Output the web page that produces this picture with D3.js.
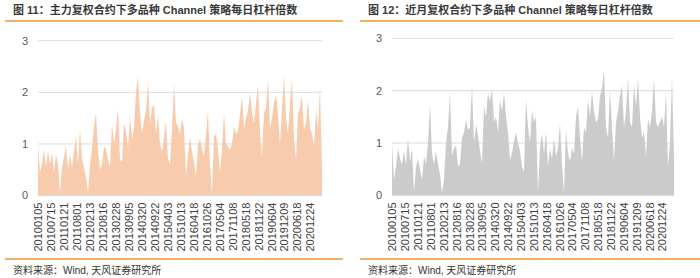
<!DOCTYPE html>
<html>
<head>
<meta charset="utf-8">
<script src="https://cdn.jsdelivr.net/npm/d3@7/dist/d3.min.js"></script>
<style>
  html, body { margin: 0; padding: 0; background: #fff; }
  svg { display: block; }
  text { font-family: "Liberation Sans", Arial, "Noto Sans CJK SC", sans-serif; }
</style>
</head>
<body>
<svg id="chart" width="700" height="278"></svg>
<script>
// ---------- data ----------
const titles = [
  "图 11：主力复权合约下多品种 Channel 策略每日杠杆倍数",
  "图 12：近月复权合约下多品种 Channel 策略每日杠杆倍数"
];
const sourceText = "资料来源：Wind, 天风证券研究所";
const tickLabels = ["20100105","20100715","20110121","20110801","20120213","20120816","20130228",
  "20130905","20140320","20140922","20150403","20151013","20160418","20161026","20170504",
  "20171108","20180518","20181122","20190604","20191209","20200618","20201224"];
const yTicks = [0, 1, 2, 3];
const tradingDaysPerLabel = 130;
const totalTradingDays = 2851;

// leverage (sampled along the trading days), main contracts
const mainLeverage = [
  0.98,0.45,0.6,0.9,0.55,0.88,0.6,0.82,0.45,0.8,0.6,0.05,0.55,0.75,0.95,0.5,0.8,0.55,0.85,1.15,
  0.6,1.3,0.7,0.55,0.35,0.03,0.6,0.9,1.35,1.6,0.9,0.5,0.6,0.95,0.9,0.7,0.55,1.4,1.0,1.3,
  1.68,0.7,0.65,1.4,1.25,0.9,1.55,1.1,1.3,2.0,2.3,1.6,1.2,1.45,1.65,2.2,1.4,1.7,1.75,1.2,
  1.55,1.0,0.85,1.15,1.45,0.7,0.6,1.3,2.17,1.4,1.35,1.2,1.5,1.3,0.37,0.8,1.14,0.85,0.65,0.35,
  1.0,1.1,0.9,0.75,1.2,1.65,0.6,0.03,1.15,1.2,0.9,0.45,0.9,1.6,1.0,0.95,0.88,1.0,1.34,1.2,
  1.25,1.6,1.9,1.3,1.5,1.65,2.0,1.6,1.4,1.8,2.14,1.2,0.75,1.6,1.7,2.27,1.3,1.5,1.8,1.95,
  1.6,1.0,1.7,2.33,1.5,1.2,1.8,2.27,1.1,0.7,1.6,1.7,1.95,1.27,1.4,1.85,1.3,1.2,0.95,1.66,
  1.3,2.1,0.5
];
// leverage, front-month contracts
const nearLeverage = [
  1.0,0.3,0.55,0.9,0.7,0.6,0.85,0.6,1.1,0.65,0.9,0.05,0.55,0.7,0.5,0.3,0.75,0.6,1.0,1.73,
  0.8,0.6,0.85,0.6,0.4,0.05,0.3,1.0,1.3,1.95,0.75,0.9,0.95,0.55,0.6,1.1,1.2,1.45,1.25,1.3,
  2.1,1.0,1.35,1.15,0.85,0.6,1.7,1.5,1.96,1.8,2.05,1.4,1.5,1.2,1.83,1.6,1.96,1.5,1.2,0.68,
  0.8,1.05,1.2,1.0,0.85,0.55,0.45,1.86,1.3,1.0,1.63,1.4,1.5,0.05,0.9,1.18,0.8,1.22,0.55,0.9,
  0.7,1.09,0.75,0.9,1.38,0.6,0.05,1.25,0.8,0.65,0.9,0.8,1.5,1.7,1.1,0.65,1.3,1.2,1.83,1.5,
  2.0,1.6,1.4,1.45,1.9,2.05,2.4,1.3,1.1,2.02,1.3,0.67,1.4,1.6,1.9,2.1,1.3,1.6,2.24,1.4,
  1.3,2.12,1.7,2.24,1.5,1.1,1.2,0.74,1.47,1.3,1.6,2.24,1.4,1.3,1.4,1.5,1.3,1.95,0.55,1.0,
  2.28,0.7
];

// ---------- layout / style ----------
const panels = [
  { title: titles[0], values: mainLeverage, fill: "#f8cbad",
    left: 38, right: 322, y0: 195.6, y3: 40.7, titleX: 13, ruleX1: 5, ruleX2: 343, tickX: 28 },
  { title: titles[1], values: nearLeverage, fill: "#cbcbcb",
    left: 392, right: 674, y0: 195.4, y3: 38.3, titleX: 368, ruleX1: 360, ruleX2: 700, tickX: 382 }
];

const svg = d3.select("#chart");

panels.forEach(p => {
  const g = svg.append("g");

  g.append("text").attr("x", p.titleX).attr("y", 14)
    .attr("font-size", 11).attr("font-weight", "bold").attr("fill", "#3a3a3a")
    .text(p.title);
  g.append("line").attr("x1", p.ruleX1).attr("x2", p.ruleX2).attr("y1", 21).attr("y2", 21)
    .attr("stroke", "#f39030").attr("stroke-width", 1.5);
  g.append("line").attr("x1", p.ruleX1).attr("x2", p.ruleX2).attr("y1", 259).attr("y2", 259)
    .attr("stroke", "#f39030").attr("stroke-width", 1.5);
  g.append("text").attr("x", p.titleX).attr("y", 274)
    .attr("font-size", 10).attr("fill", "#333").text(sourceText);

  const x = d3.scaleLinear().domain([0, totalTradingDays - 1]).range([p.left, p.right]);
  const y = d3.scaleLinear().domain([0, 3]).range([p.y0, p.y3]);
  const step = (totalTradingDays - 1) / (p.values.length - 1);

  g.selectAll("line.grid").data(yTicks.filter(t => t > 0)).join("line")
    .attr("class", "grid")
    .attr("x1", p.left).attr("x2", p.right)
    .attr("y1", d => y(d)).attr("y2", d => y(d))
    .attr("stroke", "#dcdcdc").attr("stroke-width", 1);

  const area = d3.area()
    .x((d, i) => x(i * step))
    .y0(y(0))
    .y1(d => y(d));
  g.append("path").datum(p.values).attr("d", area).attr("fill", p.fill);

  g.append("line").attr("x1", p.left).attr("x2", p.right)
    .attr("y1", y(0)).attr("y2", y(0)).attr("stroke", "#d9d9d9");

  g.selectAll("text.ytick").data(yTicks).join("text")
    .attr("class", "ytick")
    .attr("x", p.tickX).attr("y", d => y(d))
    .attr("dy", "0.35em").attr("text-anchor", "end")
    .attr("font-size", 11).attr("fill", "#595959")
    .text(d => d);

  const xAxis = d3.axisBottom(x)
    .tickValues(tickLabels.map((_, i) => i * tradingDaysPerLabel))
    .tickFormat((d, i) => tickLabels[i])
    .tickSize(0);
  const ax = g.append("g").attr("transform", `translate(0,${y(0)})`).call(xAxis);
  ax.select(".domain").remove();
  ax.selectAll("text")
    .attr("transform", "rotate(-90)")
    .attr("text-anchor", "end")
    .attr("x", -7).attr("y", 0).attr("dy", "0.35em")
    .attr("font-size", 11).attr("fill", "#404040")
    .attr("font-family", "'Liberation Sans', Arial, sans-serif");
});
</script>
</body>
</html>
